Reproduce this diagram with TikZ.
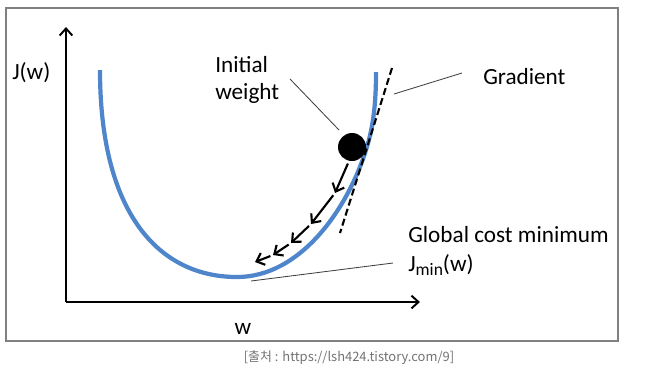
\documentclass[tikz,border=0pt]{standalone}
\usepackage{fontspec}
\setmainfont{Carlito}
\newfontfamily\capfont{Noto Sans CJK KR}
\usetikzlibrary{arrows.meta}
\definecolor{curveblue}{RGB}{79,134,203}

\begin{document}
\begin{tikzpicture}[x=0.025cm, y=-0.025cm,
                    axis/.style={line width=1.4pt, -{Straight Barb[length=5pt,width=9pt]}},
                    descent/.style={line width=1.5pt, -{Straight Barb[length=5pt,width=9pt]}},
                    leader/.style={line width=0.6pt, black!75},
                    lbl/.style={inner sep=0pt, font=\fontsize{16.5}{19}\selectfont}]
    \useasboundingbox (0,0) rectangle (649,371);
    \draw[black!50, line width=1pt] (6,8) rectangle (618,341);

    \coordinate (O) at (66,302);
    \coordinate (Ytop) at (66,27);
    \coordinate (Xend) at (420,302);
    \draw[axis] (O) -- (Ytop);
    \draw[axis] (O) -- (Xend);
    \node[lbl, anchor=west] (Jw) at (12,73) {J(w)};
    \node[lbl] (w) at (243,329) {w};

    \draw[curveblue, line width=3pt] (100,70) .. controls (100,215) and (160,277) .. (237,277)
        .. controls (300,277) and (347,210) .. (366,150)
        .. controls (374,125) and (376,100) .. (376,72);

    \coordinate (T1) at (392,68);
    \coordinate (T2) at (340,233);
    \draw[line width=1.5pt, dash pattern=on 5pt off 2.5pt] (T1) -- (T2);

    \node[circle, fill=black, minimum size=0.7cm, inner sep=0pt] (ball) at (352,147) {};

    \coordinate (A0) at (349,161);
    \coordinate (A1) at (335,193);
    \coordinate (A2) at (311,224);
    \coordinate (A3) at (291,243);
    \coordinate (A4) at (273,255);
    \coordinate (A5) at (255,262);
    \foreach \i in {1,...,5} {
            \pgfmathtruncatemacro{\prev}{\i-1}
            \draw[descent, shorten <=2pt] (A\prev) -- (A\i);
        }

    \node[lbl, anchor=north west, align=left] (init) at (215,56) {Initial\\weight};
    \coordinate (initfrom) at (290,79);
    \coordinate (initto) at (339,130);
    \draw[leader] (initfrom) -- (initto);

    \node[lbl, anchor=west] (grad) at (483,77) {Gradient};
    \coordinate (gradfrom) at (462,73);
    \coordinate (gradto) at (394,94);
    \draw[leader] (gradfrom) -- (gradto);

    \node[lbl, anchor=west] (glob) at (408,235) {Global cost minimum};
    \node[lbl, anchor=west] (jmin) at (408,265) {J\raisebox{-0.45ex}{\fontsize{12.5}{12}\selectfont min}(w)};
    \coordinate (minfrom) at (393,263);
    \coordinate (minto) at (251,281);
    \draw[leader] (minfrom) -- (minto);

    \node[inner sep=0pt, text=black!55, font=\capfont\fontsize{9.2}{11}\selectfont] (src) at (349,358) {[출처 : https://lsh424.tistory.com/9]};
\end{tikzpicture}
\end{document}
